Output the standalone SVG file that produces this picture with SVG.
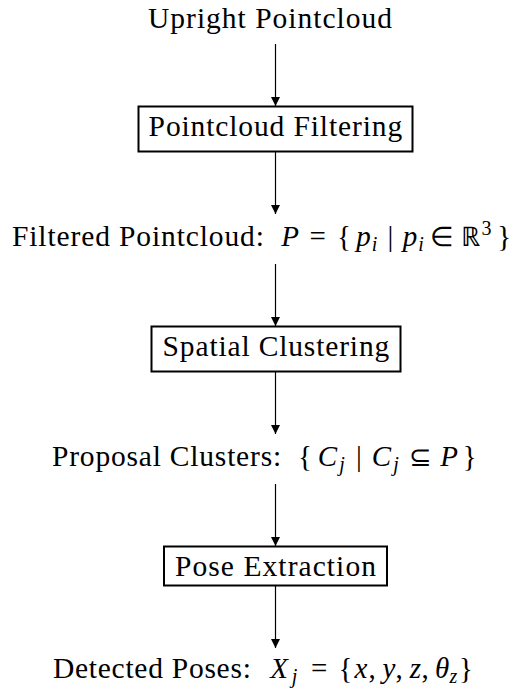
<svg xmlns="http://www.w3.org/2000/svg" width="519" height="688" viewBox="0 0 519 688">
<defs>
<marker id="ah" viewBox="0 0 10 10" refX="10" refY="5" markerWidth="9" markerHeight="10" markerUnits="userSpaceOnUse" orient="auto">
<path d="M0,0 L10,5 L0,10 z" fill="#000"/>
</marker>
</defs>
<rect width="519" height="688" fill="#fff"/>

<g id="connectors" stroke="#000" stroke-width="1.2" fill="none" marker-end="url(#ah)">
<line x1="275.5" y1="44" x2="275.5" y2="106"/>
<line x1="275.5" y1="152" x2="275.5" y2="214"/>
<line x1="275.5" y1="264" x2="275.5" y2="326"/>
<line x1="275.5" y1="372" x2="275.5" y2="434"/>
<line x1="275.5" y1="484" x2="275.5" y2="546"/>
<line x1="275.5" y1="586" x2="275.5" y2="648"/>
</g>

<g id="upright">
<text font-family="Liberation Serif" font-size="29.5" letter-spacing="1" x="148" y="28">Upright Pointcloud</text>
</g>

<g id="filtering">
<rect x="138.5" y="106.5" width="274" height="45" fill="#fff" stroke="#000" stroke-width="2"/>
<text font-family="Liberation Serif" font-size="29.5" letter-spacing="0.88" x="148.6" y="136">Pointcloud Filtering</text>
</g>

<g id="filtered">
<text font-family="Liberation Serif" font-size="29.5" letter-spacing="0.88" x="12" y="246">Filtered Pointcloud:</text>
<text font-family="Liberation Serif" font-size="29" font-style="italic" text-anchor="middle" x="290" y="246">P</text>
<text font-family="Liberation Serif" font-size="29" text-anchor="middle" x="317.6" y="246">=</text>
<text font-family="Liberation Serif" font-size="29" text-anchor="middle" x="344" y="246">{</text>
<text font-family="Liberation Serif" font-size="29" font-style="italic" text-anchor="middle" x="363.5" y="246">p</text>
<text font-family="Liberation Serif" font-size="20" font-style="italic" text-anchor="middle" x="374.5" y="251">i</text>
<text font-family="Liberation Serif" font-size="29" text-anchor="middle" x="390.3" y="246">|</text>
<text font-family="Liberation Serif" font-size="29" font-style="italic" text-anchor="middle" x="410" y="246">p</text>
<text font-family="Liberation Serif" font-size="20" font-style="italic" text-anchor="middle" x="421" y="251">i</text>
<text font-family="Liberation Serif" font-size="27" text-anchor="middle" x="442.3" y="246">∈</text>
<text font-family="Liberation Serif" font-size="27" text-anchor="middle" x="470.2" y="246">ℝ</text>
<text font-family="Liberation Serif" font-size="20" text-anchor="middle" x="486.5" y="235">3</text>
<text font-family="Liberation Serif" font-size="29" text-anchor="middle" x="504.1" y="246">}</text>
</g>

<g id="clustering">
<rect x="151.5" y="326.5" width="249" height="45" fill="#fff" stroke="#000" stroke-width="2"/>
<text font-family="Liberation Serif" font-size="29.5" letter-spacing="0.85" x="162.6" y="356">Spatial Clustering</text>
</g>

<g id="proposals">
<text font-family="Liberation Serif" font-size="29.5" letter-spacing="0.8" x="52" y="466">Proposal Clusters:</text>
<text font-family="Liberation Serif" font-size="29" text-anchor="middle" x="304.9" y="466">{</text>
<text font-family="Liberation Serif" font-size="29" font-style="italic" text-anchor="middle" x="327.5" y="466">C</text>
<text font-family="Liberation Serif" font-size="20" font-style="italic" text-anchor="middle" x="342" y="471">j</text>
<text font-family="Liberation Serif" font-size="29" text-anchor="middle" x="358.9" y="466">|</text>
<text font-family="Liberation Serif" font-size="29" font-style="italic" text-anchor="middle" x="381.5" y="466">C</text>
<text font-family="Liberation Serif" font-size="20" font-style="italic" text-anchor="middle" x="396" y="471">j</text>
<text font-family="Liberation Serif" font-size="27" text-anchor="middle" x="420" y="466">⊆</text>
<text font-family="Liberation Serif" font-size="29" font-style="italic" text-anchor="middle" x="449" y="466">P</text>
<text font-family="Liberation Serif" font-size="29" text-anchor="middle" x="469.6" y="466">}</text>
</g>

<g id="extraction">
<rect x="164" y="546.5" width="223" height="39" fill="#fff" stroke="#000" stroke-width="2"/>
<text font-family="Liberation Serif" font-size="29.5" letter-spacing="1.07" x="175" y="576">Pose Extraction</text>
</g>

<g id="detected">
<text font-family="Liberation Serif" font-size="29.5" letter-spacing="0.73" x="53" y="678">Detected Poses:</text>
<text font-family="Liberation Serif" font-size="29" font-style="italic" text-anchor="middle" x="279" y="678">X</text>
<text font-family="Liberation Serif" font-size="20" font-style="italic" text-anchor="middle" x="294.5" y="683">j</text>
<text font-family="Liberation Serif" font-size="29" text-anchor="middle" x="319.1" y="678">=</text>
<text font-family="Liberation Serif" font-size="29" text-anchor="middle" x="345.5" y="678">{</text>
<text font-family="Liberation Serif" font-size="29" font-style="italic" text-anchor="middle" x="361" y="678">x</text>
<text font-family="Liberation Serif" font-size="29" text-anchor="middle" x="372" y="678">,</text>
<text font-family="Liberation Serif" font-size="29" font-style="italic" text-anchor="middle" x="389" y="678">y</text>
<text font-family="Liberation Serif" font-size="29" text-anchor="middle" x="399" y="678">,</text>
<text font-family="Liberation Serif" font-size="29" font-style="italic" text-anchor="middle" x="415.5" y="678">z</text>
<text font-family="Liberation Serif" font-size="29" text-anchor="middle" x="425" y="678">,</text>
<text font-family="Liberation Serif" font-size="29" font-style="italic" text-anchor="middle" x="442" y="678">θ</text>
<text font-family="Liberation Serif" font-size="20" font-style="italic" text-anchor="middle" x="453.5" y="683">z</text>
<text font-family="Liberation Serif" font-size="29" text-anchor="middle" x="466" y="678">}</text>
</g>
</svg>
